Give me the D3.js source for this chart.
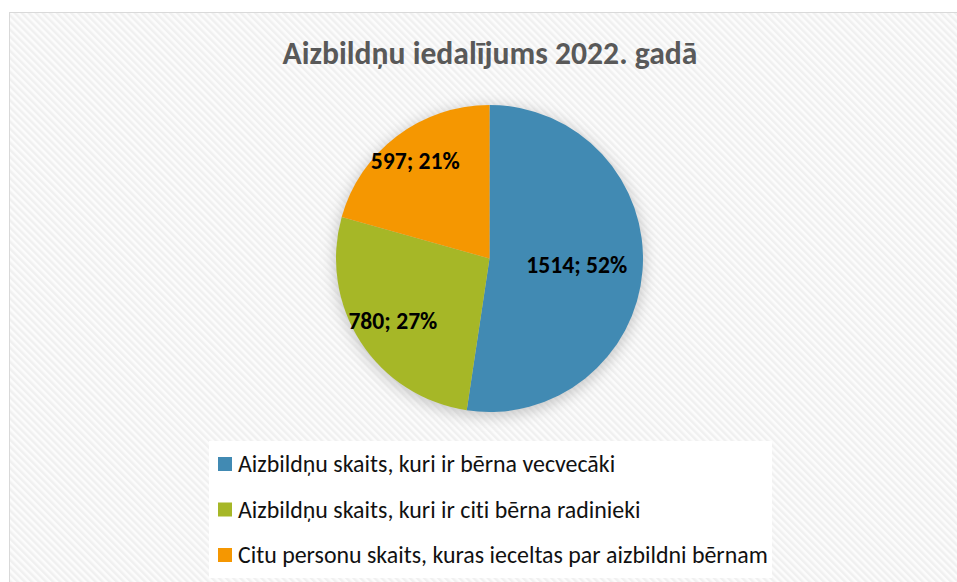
<!DOCTYPE html>
<html>
<head>
<meta charset="utf-8">
<script src="https://cdn.jsdelivr.net/npm/d3@7"></script>
<style>
  body { margin: 0; background: #fff; }
  svg { display: block; font-family: Carlito, Calibri, Lato, sans-serif; font-variant-ligatures: none; }
</style>
</head>
<body>
<svg id="chart"></svg>
<script>
// chart data
const categories = [
  "Aizbildņu skaits, kuri ir bērna vecvecāki",
  "Aizbildņu skaits, kuri ir citi bērna radinieki",
  "Citu personu skaits, kuras ieceltas par aizbildni bērnam",
]
const values = [1514, 780, 597]
const colors = ["#418AB3", "#A6B727", "#F59701"]
const title = "Aizbildņu iedalījums 2022. gadā"

const WIDTH = 957
const HEIGHT = 582

// pie geometry
const CX = 489.5
const CY = 258.5
const RADIUS = 153.5
// excel "best fit" puts labels at different distances from the centre
const labelRadius = [0.57, 0.75, 0.8]

// the fallback font is not calibri, so size text to the widths seen in the original
function fitWidth(sel, target) {
  const size = parseFloat(sel.attr("font-size"))
  const w = sel.node().getComputedTextLength()
  return size * target / w
}

const svg = d3.select("#chart").attr("width", WIDTH).attr("height", HEIGHT)
const defs = svg.append("defs")

// diagonal stripe background
const pattern = defs.append("pattern")
  .attr("id", "stripes")
  .attr("width", 5)
  .attr("height", 5)
  .attr("patternUnits", "userSpaceOnUse")
  .attr("patternTransform", "rotate(-45)")
pattern.append("rect").attr("width", 5).attr("height", 5).attr("fill", "#fcfcfc")
pattern.append("rect").attr("width", 2.5).attr("height", 5).attr("fill", "#f0f0f0")

const blur = defs.append("filter")
  .attr("id", "glow")
  .attr("x", "-30%").attr("y", "-30%")
  .attr("width", "160%").attr("height", "160%")
blur.append("feGaussianBlur").attr("stdDeviation", 7)

// chart area
svg.append("rect")
  .attr("x", 9.5)
  .attr("y", 12.5)
  .attr("width", WIDTH)
  .attr("height", HEIGHT)
  .attr("fill", "url(#stripes)")
  .attr("stroke", "#d9d9d9")
  .attr("stroke-width", 1)

// title
const titleText = svg.append("text")
  .attr("x", 490)
  .attr("y", 64)
  .attr("text-anchor", "middle")
  .attr("font-size", 29)
  .attr("font-weight", "bold")
  .attr("fill", "#595959")
  .text(title)
titleText.attr("font-size", fitWidth(titleText, 415))

// pie
const total = d3.sum(values)
const pie = d3.pie().sort(null).value((d) => d)
const arcs = pie(values)
const arc = d3.arc().innerRadius(0).outerRadius(RADIUS)

const g = svg.append("g").attr("transform", `translate(${CX},${CY})`)

// soft shadow behind the pie
g.append("circle")
  .attr("r", RADIUS + 2)
  .attr("cy", 3)
  .attr("fill", "#9a9a9a")
  .attr("opacity", 0.5)
  .attr("filter", "url(#glow)")

g.selectAll("path.slice")
  .data(arcs)
  .join("path")
  .attr("class", "slice")
  .attr("d", arc)
  .attr("fill", (d, i) => colors[i])

const labels = g.selectAll("text.label")
  .data(arcs)
  .join("text")
  .attr("class", "label")
  .attr("transform", (d, i) => {
    const a = (d.startAngle + d.endAngle) / 2
    const r = RADIUS * labelRadius[i]
    return `translate(${Math.sin(a) * r},${-Math.cos(a) * r})`
  })
  .attr("dy", "0.35em")
  .attr("text-anchor", "middle")
  .attr("font-size", 22)
  .attr("font-weight", "bold")
  .attr("fill", "#000")
  .text((d) => `${d.data}; ${Math.round((d.data / total) * 100)}%`)
labels.attr("font-size", fitWidth(labels.filter((d, i) => i === 0), 101))

// legend
svg.append("rect")
  .attr("x", 209)
  .attr("y", 441)
  .attr("width", 563)
  .attr("height", 137)
  .attr("fill", "#fff")
const legend = svg.append("g")

const rowY = d3.scalePoint().domain(d3.range(categories.length)).range([464, 555])

const items = legend.selectAll("g")
  .data(categories)
  .join("g")
  .attr("transform", (d, i) => `translate(218,${rowY(i)})`)

items.append("rect")
  .attr("y", -7)
  .attr("width", 14)
  .attr("height", 14)
  .attr("fill", (d, i) => colors[i])

const legendText = items.append("text")
  .attr("x", 20)
  .attr("dy", "0.35em")
  .attr("font-size", 20)
  .attr("fill", "#111")
  .text((d) => d)
legendText.attr("font-size", fitWidth(legendText.filter((d, i) => i === 2), 530))
</script>
</body>
</html>
